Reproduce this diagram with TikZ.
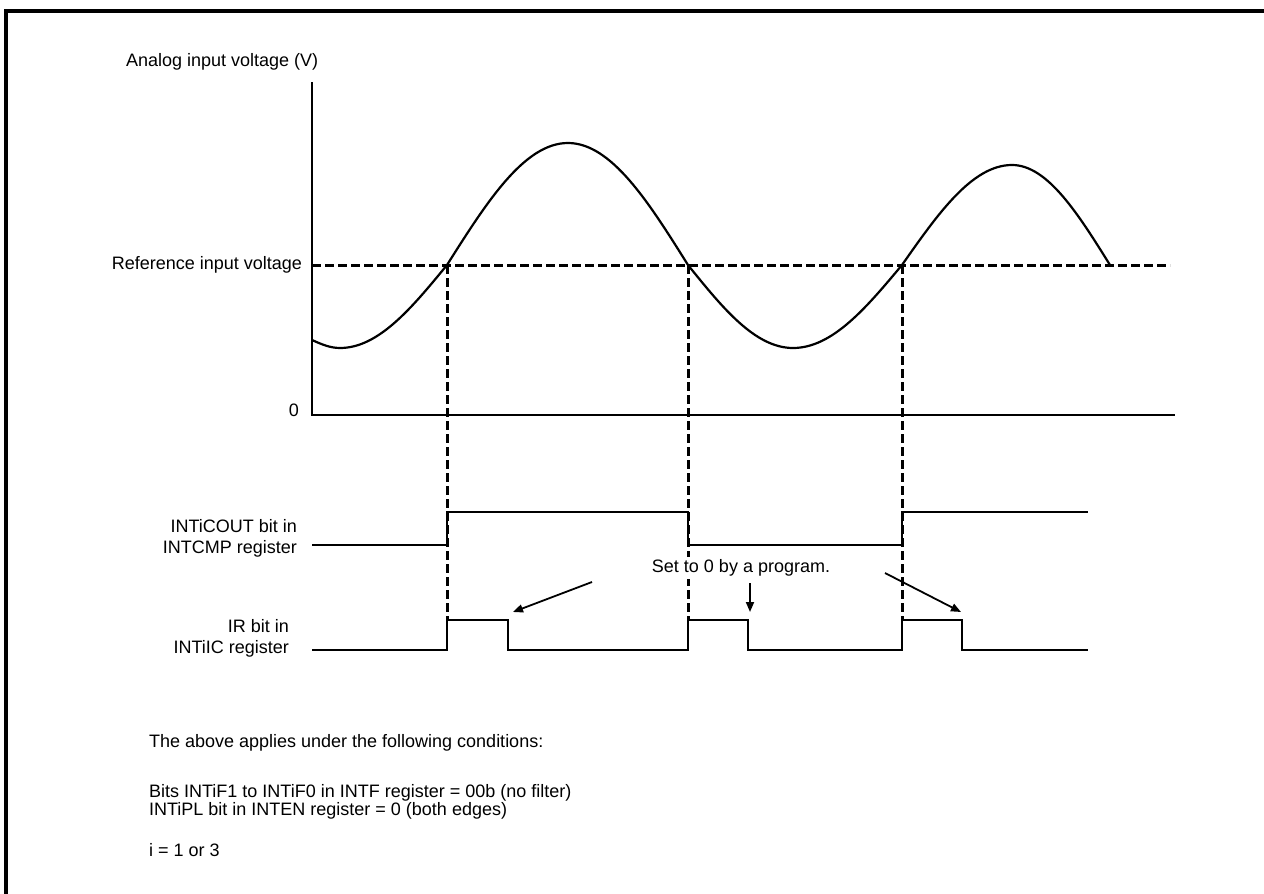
\documentclass[tikz,border=0pt]{standalone}
\usepackage{fontspec}
\setmainfont{Liberation Sans}
\usetikzlibrary{arrows.meta, positioning}

\begin{document}
\begin{tikzpicture}[x=1pt, y=-1pt, line width=2.2pt,
  >={Triangle[length=10pt, width=8pt]},
  lbl/.style={font=\fontsize{18}{21}\selectfont, inner sep=0pt},
  sig/.style={line width=2.2pt, line join=miter},
  refline/.style={line width=3pt, dash pattern=on 9pt off 4pt},
  note/.style={line width=1.8pt, ->}
]
\useasboundingbox (0,0) rectangle (1264,894);

% Frame
\draw[line width=3.2pt] (6,894) -- (6,11) -- (1264,11);

% Axes
\coordinate (ytop) at (312,82);
\coordinate (origin) at (312,415);
\coordinate (xend) at (1175,415);
\draw (ytop) -- (origin) -- (xend);
\node[lbl, anchor=west] (ylabel) at (125,62) {Analog input voltage (V)};
\node[lbl, anchor=east] (zero) at (300,410) {0};

% Reference level
\node[lbl, anchor=east] (vref) at (303,265) {Reference input voltage};
\coordinate (c1) at (447,265);
\coordinate (c2) at (688,265);
\coordinate (c3) at (902,265);
\coordinate (refend) at (1170,265);
\draw[refline] (312,265) -- (refend);

% Analog input
\draw[sig] (312,340) sin (340,348) cos (c1) sin (568,143) cos (c2)
  sin (793,348) cos (c3) sin (1012,165) cos (1110,265);

% Dashed crossing markers
\foreach \c/\x in {c1/447, c2/688, c3/902}
  \draw[refline] (\c) -- (\x,620);

% INTiCOUT
\node[lbl, anchor=east, align=right] (cout) at (298,538)
  {INTiCOUT bit in\\INTCMP register};
\draw[sig] (312,545) -| (447,512) -| (688,545) -| (902,512) -- (1088,512);

% IR bit
\node[lbl, anchor=east, align=right] (irbit) at (290,638)
  {IR bit in\\INTiIC register};
\draw[sig] (312,650) -| (447,620) -| (508,650) -| (688,620) -| (748,650)
  -| (902,620) -| (962,650) -- (1088,650);

% Cleared by program
\node[lbl, fill=white, inner sep=3pt] (setzero) at (741,568) {Set to 0 by a program.};
\coordinate (a1s) at (592,582);
\coordinate (a1e) at (513,612);
\coordinate (a2s) at (750,583);
\coordinate (a2e) at (750,612);
\coordinate (a3s) at (885,573);
\coordinate (a3e) at (961,612);
\draw[note] (a1s) -- (a1e);
\draw[note] (a2s) -- (a2e);
\draw[note] (a3s) -- (a3e);

% Conditions
\node[lbl, anchor=west] (cond) at (148,743)
  {The above applies under the following conditions:};
\node[lbl, anchor=west, align=left, font=\fontsize{18}{15}\selectfont] (bits) at (148,802)
  {Bits INTiF1 to INTiF0 in INTF register = 00b (no filter)\\
   INTiPL bit in INTEN register = 0 (both edges)};
\node[lbl, anchor=west] (idx) at (148,850) {i = 1 or 3};

\end{tikzpicture}
\end{document}
